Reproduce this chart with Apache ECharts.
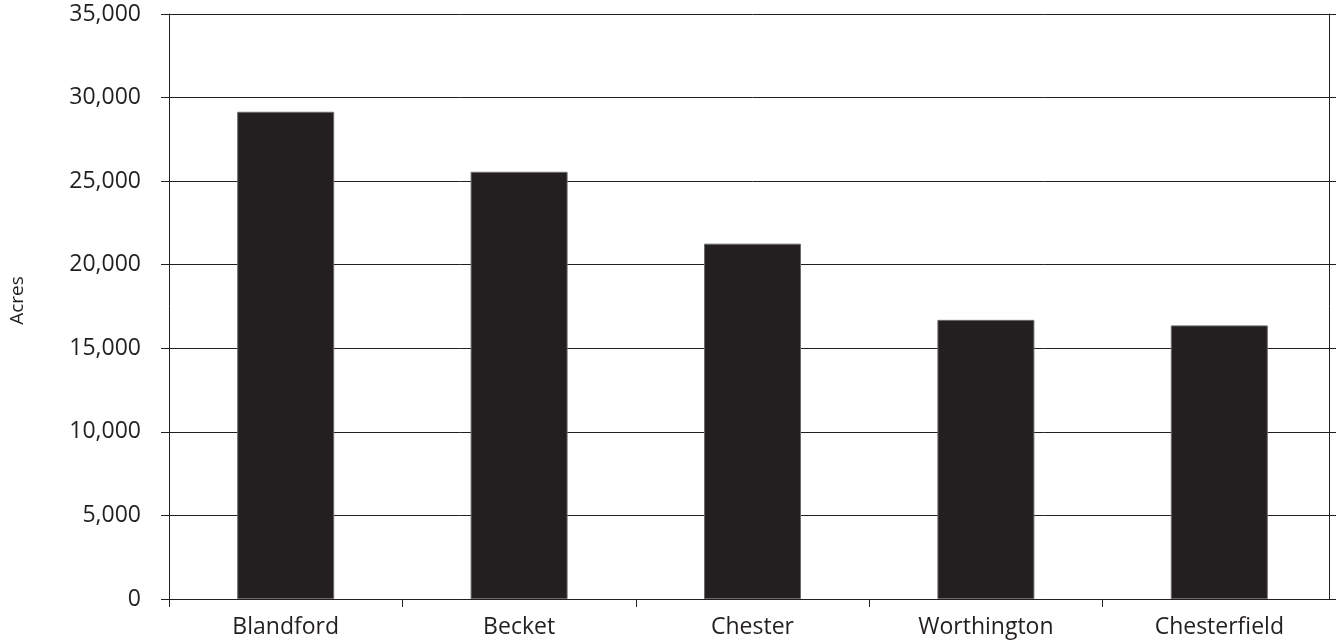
<!DOCTYPE html>
<html>
<head>
<meta charset="utf-8">
<script src="https://cdn.jsdelivr.net/npm/echarts@6/dist/echarts.min.js"></script>
<style>
  html, body { margin: 0; padding: 0; background: #fff; }
  #chart { width: 1336px; height: 643px; }
</style>
</head>
<body>
<div id="chart"></div>
<script>
// Acreage by town
const towns = ['Blandford', 'Becket', 'Chester', 'Worthington', 'Chesterfield'];
const acres = [29150, 25560, 21260, 16700, 16370];
const yTicks = { min: 0, max: 35000, interval: 5000 };

const ink = '#231f20';
const font = 'Open Sans';

const chart = echarts.init(document.getElementById('chart'));
chart.setOption({
  animation: false,
  // the category axis runs a little past the frame on the right
  grid: { left: 167, right: -6, top: 14, bottom: 44 },
  xAxis: {
    type: 'category',
    data: towns,
    axisLine: { lineStyle: { color: ink, width: 1 } },
    axisTick: { show: true, length: 8, lineStyle: { color: ink } },
    axisLabel: { color: ink, fontFamily: font, fontSize: 23, margin: 17 }
  },
  yAxis: [{
    type: 'value',
    min: yTicks.min, max: yTicks.max, interval: yTicks.interval,
    name: 'Acres',
    nameLocation: 'middle',
    nameGap: 142,
    nameTextStyle: { color: ink, fontFamily: font, fontSize: 19, padding: [0, 0, 0, 12] },
    axisLine: { show: true, lineStyle: { color: ink, width: 1 } },
    axisTick: { show: true, length: 8, lineStyle: { color: ink } },
    splitLine: { show: true, lineStyle: { color: ink, width: 1 } },
    axisLabel: {
      color: ink, fontFamily: font, fontSize: 23, margin: 28,
      formatter: v => v.toLocaleString('en-US')
    }
  }, {
    // right-hand frame edge
    type: 'value',
    position: 'right',
    offset: -7,
    min: yTicks.min, max: yTicks.max, interval: yTicks.interval,
    axisLine: { show: true, lineStyle: { color: ink, width: 1 } },
    axisTick: { show: false },
    axisLabel: { show: false },
    splitLine: { show: false }
  }],
  series: [{
    type: 'bar',
    data: acres,
    barWidth: 97,
    itemStyle: { color: ink, borderColor: '#6b6b6b', borderWidth: 1 }
  }]
});
</script>
</body>
</html>
